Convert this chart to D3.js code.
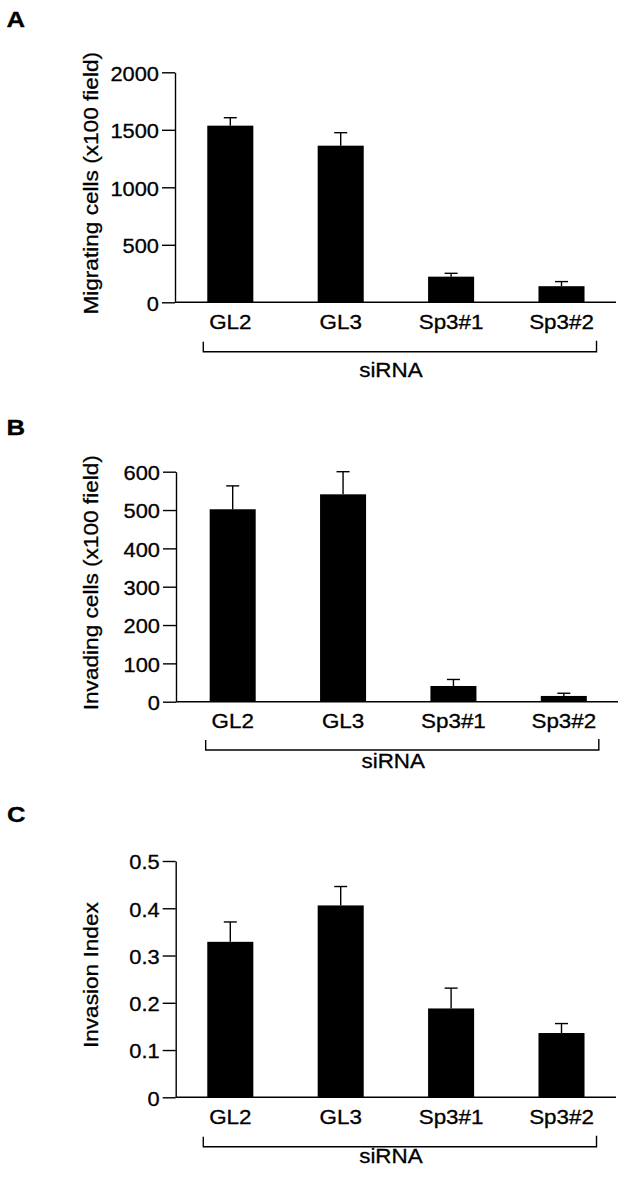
<!DOCTYPE html>
<html>
<head>
<meta charset="utf-8">
<script src="https://cdn.jsdelivr.net/npm/d3@7"></script>
<style>
  html, body { margin: 0; padding: 0; background: #fff; }
  svg { display: block; }
  text { font-family: "Liberation Sans", Arial, Helvetica, sans-serif; fill: #000; stroke: #000; stroke-width: 0.3px; }
</style>
</head>
<body>
<svg id="chart" width="625" height="1178"></svg>
<script>
// ---------- data ----------
const categories = ["GL2", "GL3", "Sp3#1", "Sp3#2"];
const groupLabel = "siRNA";
const panelLetters = ["A", "B", "C"];
const yTitles = ["Migrating cells (x100 field)", "Invading cells (x100 field)", "Invasion Index"];

const migratingValues = [1536, 1362, 223, 140];
const migratingErrors = [69, 113, 29, 40];
const migratingTicks = [0, 500, 1000, 1500, 2000];

const invadingValues = [502, 541, 41, 15];
const invadingErrors = [61, 59, 17, 7];
const invadingTicks = [0, 100, 200, 300, 400, 500, 600];

const indexValues = [0.329, 0.406, 0.188, 0.136];
const indexErrors = [0.042, 0.040, 0.043, 0.020];
const indexTicks = [0, 0.1, 0.2, 0.3, 0.4, 0.5];

// ---------- layout ----------
const layouts = [
  { axisLeft: 175, axisRight: 616, yTop: 72.3, yBottom: 302.3, band: [175.1, 616.7], bracketY: 351.7, groupBase: 376.5, letterBase: 26.7, letterX: 6.5 },
  { axisLeft: 176, axisRight: 618, yTop: 471.7, yBottom: 701.7, band: [177.5, 619], bracketY: 750, groupBase: 767.5, letterBase: 435, letterX: 6.5 },
  { axisLeft: 175.7, axisRight: 616, yTop: 861, yBottom: 1097.3, band: [175.1, 616.7], bracketY: 1146.7, groupBase: 1162.7, letterBase: 821.5, letterX: 7 }
];

const panelsData = [
  { values: migratingValues, errors: migratingErrors, ticks: migratingTicks, fmt: d3.format("d") },
  { values: invadingValues, errors: invadingErrors, ticks: invadingTicks, fmt: d3.format("d") },
  { values: indexValues, errors: indexErrors, ticks: indexTicks, fmt: d => d === 0 ? "0" : d3.format(".1f")(d) }
];

const svg = d3.select("#chart");
const stretch = 1.12;

panelsData.forEach((pd, i) => {
  const L = layouts[i];
  const g = svg.append("g");
  const maxTick = pd.ticks[pd.ticks.length - 1];

  const y = d3.scaleLinear().domain([0, maxTick]).range([L.yBottom, L.yTop]);
  const x = d3.scaleBand().domain(categories).range(L.band).paddingInner(0.583).paddingOuter(0.2915);

  // panel letter
  g.append("text")
    .attr("transform", `translate(${L.letterX},${L.letterBase}) scale(${stretch},1)`)
    .attr("font-size", 23)
    .attr("font-weight", "bold")
    .text(panelLetters[i]);

  // y axis
  const yAxis = d3.axisLeft(y).tickValues(pd.ticks).tickFormat(pd.fmt).tickSize(13).tickSizeOuter(0);
  const ya = g.append("g").attr("transform", `translate(${L.axisLeft},0)`).call(yAxis);
  ya.select(".domain").attr("stroke", "#000").attr("stroke-width", 1.4);
  ya.selectAll(".tick line").attr("stroke", "#000").attr("stroke-width", 1.4);
  ya.selectAll(".tick text")
    .attr("x", null).attr("dy", null)
    .attr("transform", `translate(-16,7.9) scale(${stretch},1)`)
    .attr("font-size", 19.5)
    .attr("font-family", null)
    .attr("fill", "#000");

  // x axis (baseline line + category labels)
  const xAxis = d3.axisBottom(x).tickSize(0).tickSizeOuter(0);
  const xa = g.append("g").attr("transform", `translate(0,${L.yBottom})`).call(xAxis);
  xa.select(".domain").remove();
  xa.selectAll(".tick text")
    .attr("y", null).attr("dy", null)
    .attr("transform", `translate(0,26.7) scale(${stretch},1)`)
    .attr("font-size", 20)
    .attr("font-family", null)
    .attr("fill", "#000");
  g.append("line")
    .attr("x1", L.axisLeft).attr("x2", L.axisRight)
    .attr("y1", L.yBottom).attr("y2", L.yBottom)
    .attr("stroke", "#000").attr("stroke-width", 1.4);

  // y title
  g.append("text")
    .attr("transform", `translate(98.3,${(L.yTop + L.yBottom) / 2 - 4}) rotate(-90) scale(1.16,1)`)
    .attr("text-anchor", "middle")
    .attr("font-size", 19.5)
    .text(yTitles[i]);

  const rows = categories.map((c, k) => ({ c, v: pd.values[k], e: pd.errors[k] }));

  // error bars (behind bars)
  const eb = g.append("g").attr("stroke", "#000").attr("stroke-width", 1.4);
  eb.selectAll("line.v").data(rows).join("line").attr("class", "v")
    .attr("x1", d => x(d.c) + x.bandwidth() / 2).attr("x2", d => x(d.c) + x.bandwidth() / 2)
    .attr("y1", d => y(d.v)).attr("y2", d => y(d.v + d.e));
  eb.selectAll("line.cap").data(rows).join("line").attr("class", "cap")
    .attr("x1", d => x(d.c) + x.bandwidth() / 2 - 6.5).attr("x2", d => x(d.c) + x.bandwidth() / 2 + 6.5)
    .attr("y1", d => y(d.v + d.e)).attr("y2", d => y(d.v + d.e));

  // bars
  g.append("g").selectAll("rect").data(rows).join("rect")
    .attr("x", d => x(d.c)).attr("width", x.bandwidth())
    .attr("y", d => y(d.v)).attr("height", d => y(0) - y(d.v))
    .attr("fill", "#000");

  // bracket
  const bx1 = x(categories[0]) - 4;
  const bx2 = x(categories[categories.length - 1]) + x.bandwidth() + 12;
  g.append("path")
    .attr("d", `M${bx1},${L.bracketY - 10}V${L.bracketY}H${bx2}V${L.bracketY - 11}`)
    .attr("fill", "none").attr("stroke", "#000").attr("stroke-width", 1.4);

  g.append("text")
    .attr("transform", `translate(${(bx1 + bx2) / 2 - 9},${L.groupBase}) scale(${stretch},1)`)
    .attr("text-anchor", "middle")
    .attr("font-size", 20)
    .text(groupLabel);
});
</script>
</body>
</html>
